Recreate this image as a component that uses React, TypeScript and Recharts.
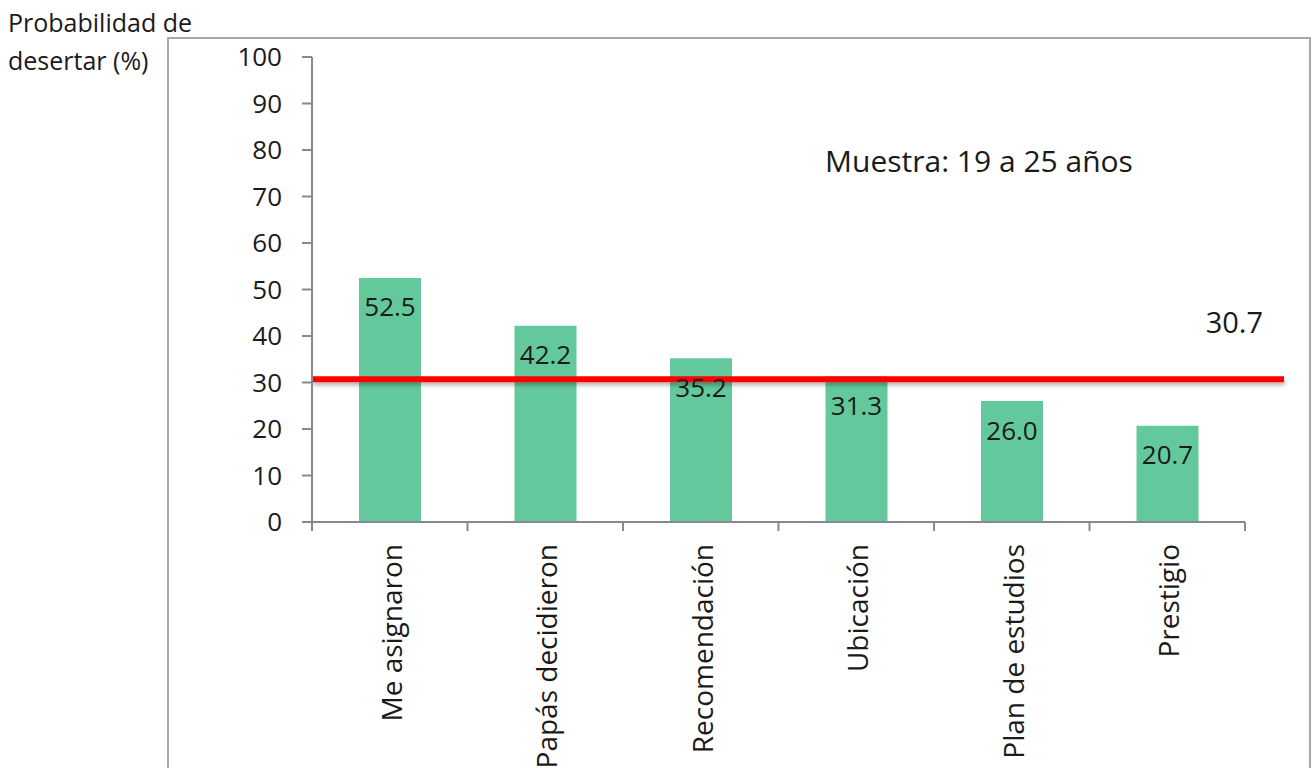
import { BarChart, Bar, XAxis, YAxis, ReferenceLine, LabelList } from 'recharts'

const categories = ['Me asignaron', 'Papás decidieron', 'Recomendación', 'Ubicación', 'Plan de estudios', 'Prestigio']
const probabilities = [52.5, 42.2, 35.2, 31.3, 26.0, 20.7]
const yTicks = [0, 10, 20, 30, 40, 50, 60, 70, 80, 90, 100]
const average = 30.7
const sampleNote = 'Muestra: 19 a 25 años'
const yTitle = ['Probabilidad de', 'desertar (%)']

const chartData = categories.map((name, i) => ({ name, value: probabilities[i] }))

const FONT = '"Open Sans", "Noto Sans", sans-serif'
const TEXT = '#1a1a1a'
const AXIS = '#898989'
const TICK_MARGIN = 22

// category label rotated, plus the boundary tick marks between categories
const CategoryTick = (props: any) => {
  const { x, y, payload, index, width, visibleTicksCount } = props
  const band = width / visibleTicksCount
  const axisY = y - TICK_MARGIN
  return (
    <g>
      <line x1={x - band / 2} y1={axisY} x2={x - band / 2} y2={axisY + 9} stroke={AXIS} strokeWidth={2} />
      {index === visibleTicksCount - 1 && (
        <line x1={x + band / 2} y1={axisY} x2={x + band / 2} y2={axisY + 9} stroke={AXIS} strokeWidth={2} />
      )}
      <text
        x={x + 2}
        y={y}
        transform={`rotate(-90, ${x + 2}, ${y})`}
        textAnchor="end"
        dy="0.35em"
        fontSize={28}
        fontFamily={FONT}
        fill={TEXT}
      >
        {payload.value}
      </text>
    </g>
  )
}

const AverageLine = (props: any) => {
  const { x1, y1, x2, y2 } = props
  return (
    <g>
      <defs>
        <filter id="avgShadow" filterUnits="userSpaceOnUse" x={0} y={0} width={1314} height={768}>
          <feDropShadow dx="1" dy="3" stdDeviation="2" floodColor="#000" floodOpacity="0.3" />
        </filter>
      </defs>
      <line x1={x1} y1={y1} x2={x2 + 39} y2={y2} stroke="#ff0000" strokeWidth={6} filter="url(#avgShadow)" />
      <text
        x={x2 + 18}
        y={y1 - 54}
        textAnchor="end"
        dominantBaseline="middle"
        fontSize={29}
        fontFamily={FONT}
        fill={TEXT}
      >
        {average.toFixed(1)}
      </text>
    </g>
  )
}

export default function App() {
  return (
    <div style={{ position: 'fixed', left: 0, top: 0, width: 1314, height: 768, overflow: 'hidden', background: '#fff', fontFamily: FONT }}>
      <div style={{ position: 'absolute', left: 167, top: 37, width: 1140, height: 800, border: '2px solid #a8a8a8' }} />
      <div style={{ position: 'absolute', left: 8, top: 3, fontSize: 25, lineHeight: '38px', color: TEXT }}>
        {yTitle.map((t) => (
          <div key={t}>{t}</div>
        ))}
      </div>
      <div style={{ position: 'absolute', left: 825, top: 141, fontSize: 30, lineHeight: '40px', color: TEXT }}>
        {sampleNote}
      </div>
      <div style={{ position: 'absolute', left: 0, top: 0 }}>
        <BarChart width={1314} height={768} data={chartData} margin={{ top: 57, right: 69, left: 232, bottom: 0 }}>
          <XAxis
            dataKey="name"
            axisLine={{ stroke: AXIS, strokeWidth: 2 }}
            tickLine={false}
            tickSize={0}
            tickMargin={TICK_MARGIN}
            interval={0}
            height={246}
            tick={CategoryTick}
          />
          <YAxis
            domain={[0, 100]}
            ticks={yTicks}
            width={80}
            axisLine={{ stroke: AXIS, strokeWidth: 2 }}
            tickLine={{ stroke: AXIS, strokeWidth: 2 }}
            tickSize={10}
            tickMargin={20}
            tick={{ fill: TEXT, fontSize: 26, fontFamily: FONT }}
          />
          <Bar dataKey="value" fill="#63C99C" barSize={62} isAnimationActive={false}>
            <LabelList
              dataKey="value"
              position="insideTop"
              offset={20}
              formatter={(v: any) => Number(v).toFixed(1)}
              style={{ fill: TEXT, fontSize: 26, fontFamily: FONT }}
            />
          </Bar>
          <ReferenceLine y={average} ifOverflow="visible" shape={AverageLine} />
        </BarChart>
      </div>
    </div>
  )
}
